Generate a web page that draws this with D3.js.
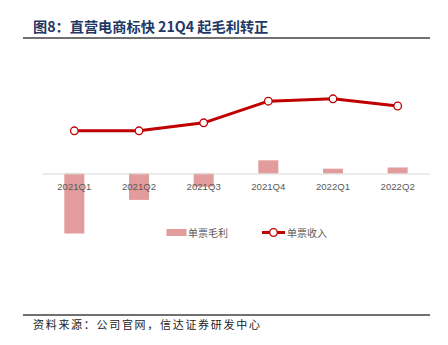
<!DOCTYPE html>
<html><head><meta charset="utf-8">
<script src="https://cdn.jsdelivr.net/npm/d3@7"></script>
<style>body{margin:0;background:#fff;}svg{display:block;}</style>
</head><body>
<script>
const categories = ["2021Q1","2021Q2","2021Q3","2021Q4","2022Q1","2022Q2"];
const grossProfit = [-5.0, -2.2, -1.1, 1.1, 0.4, 0.5];     // 单票毛利 (bars)
const revenue = [29.8, 29.8, 31.8, 37.2, 37.8, 36.0];       // 单票收入 (line)
const seriesNames = ["单票毛利", "单票收入"];
const titleText = "图8：直营电商标快 21Q4 起毛利转正";
const sourceText = "资料来源：公司官网，信达证券研发中心";

const W = 448, H = 345;
const svg = d3.select("body").append("svg").attr("width", W).attr("height", H);
const cjk = "'Noto Sans CJK SC', 'Noto Sans', sans-serif";

// Title
svg.append("text").attr("x", 33).attr("y", 32)
  .attr("font-family", cjk).attr("font-weight", "bold").attr("font-size", 14.2)
  .attr("fill", "#1f3864").text(titleText);
svg.append("line").attr("x1", 23).attr("x2", 430).attr("y1", 38).attr("y2", 38)
  .attr("stroke", "#404040").attr("stroke-width", 1.6);

// Scales
const x = d3.scaleBand().domain(categories).range([42, 430]);
const yBar = d3.scaleLinear().domain([-6, 6]).range([245.5, 101.5]);
const yLine = d3.scaleLinear().domain([0, 40]).range([250, 90]);

// Bars
const barW = 20;
svg.append("g").selectAll("rect").data(categories).join("rect")
  .attr("x", d => x(d) + x.bandwidth()/2 - barW/2)
  .attr("width", barW)
  .attr("y", (d,i) => Math.min(yBar(grossProfit[i]), yBar(0)))
  .attr("height", (d,i) => Math.abs(yBar(grossProfit[i]) - yBar(0)))
  .attr("fill", "#e29c9c");

// Axis
const axis = d3.axisBottom(x).tickSize(0).tickPadding(10);
const gAxis = svg.append("g").attr("transform", `translate(0,${yBar(0)})`).call(axis);
gAxis.select(".domain").attr("stroke", "#d9d9d9").attr("stroke-width", 1);
gAxis.selectAll("text").attr("font-family", "'Liberation Sans', Arial, sans-serif")
  .attr("font-size", 9.6).attr("fill", "#595959");

// Line
const line = d3.line().x((d,i) => x(categories[i]) + x.bandwidth()/2).y(d => yLine(d));
svg.append("path").datum(revenue).attr("d", line)
  .attr("fill", "none").attr("stroke", "#c00000").attr("stroke-width", 3)
  .attr("stroke-linejoin", "round");
svg.append("g").selectAll("circle").data(revenue).join("circle")
  .attr("cx", (d,i) => x(categories[i]) + x.bandwidth()/2)
  .attr("cy", d => yLine(d)).attr("r", 3.8)
  .attr("fill", "#fff").attr("stroke", "#c00000").attr("stroke-width", 1.3);

// Legend
const lg = svg.append("g");
lg.append("rect").attr("x", 166.5).attr("y", 229).attr("width", 20).attr("height", 7).attr("fill", "#e29c9c");
lg.append("text").attr("x", 188).attr("y", 236.5).attr("font-family", cjk).attr("font-size", 10)
  .attr("fill", "#595959").text(seriesNames[0]);
lg.append("line").attr("x1", 262).attr("x2", 285).attr("y1", 232.5).attr("y2", 232.5)
  .attr("stroke", "#c00000").attr("stroke-width", 3);
lg.append("circle").attr("cx", 273.5).attr("cy", 232.5).attr("r", 3.8)
  .attr("fill", "#fff").attr("stroke", "#c00000").attr("stroke-width", 1.3);
lg.append("text").attr("x", 287).attr("y", 236.5).attr("font-family", cjk).attr("font-size", 10)
  .attr("fill", "#595959").text(seriesNames[1]);

// Footer
svg.append("line").attr("x1", 23).attr("x2", 430).attr("y1", 315).attr("y2", 315)
  .attr("stroke", "#404040").attr("stroke-width", 1.6);
svg.append("text").attr("x", 33).attr("y", 328.5).attr("font-family", cjk)
  .attr("font-size", 11).attr("letter-spacing", 1.7).attr("fill", "#222").text(sourceText);
</script>
</body></html>
